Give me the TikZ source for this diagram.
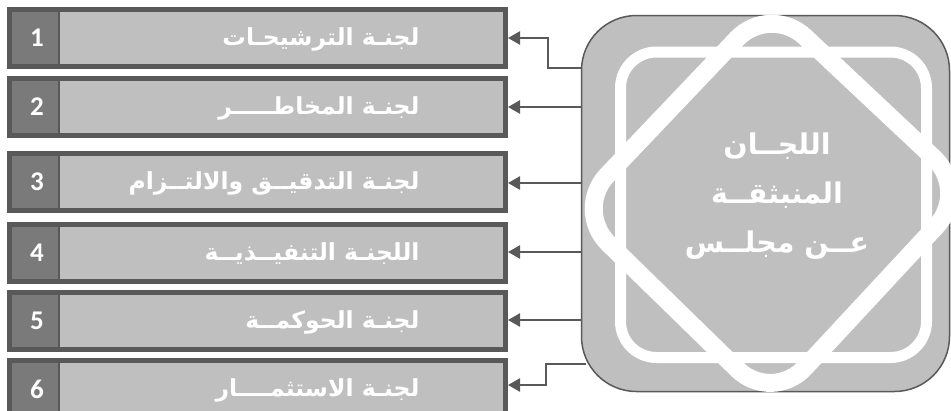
\documentclass[tikz,border=0pt]{standalone}
\usepackage{fontspec}
\setmainfont{Carlito}
\newfontfamily\arabicfont[Script=Arabic]{DejaVu Sans}
\TeXXeTstate=1
\usetikzlibrary{arrows.meta}
\definecolor{fillgray}{HTML}{BFBFBF}
\definecolor{edgegray}{HTML}{595959}
\definecolor{cellgray}{HTML}{7A7A7A}
\begin{document}
\begin{tikzpicture}[x=1pt,y=-1pt,
  boxnode/.style={draw=edgegray,line width=5pt,fill=fillgray,minimum width=496pt,minimum height=57pt,inner sep=0pt},
  cellnode/.style={fill=cellgray,minimum width=47pt,minimum height=52pt,inner sep=0pt},
  numtext/.style={text=white,font=\fontsize{27}{30}\selectfont\bfseries},
  artext/.style={text=white,anchor=east,font=\arabicfont\fontsize{23.5}{26}\selectfont\bfseries},
  arr/.style={draw=edgegray,line width=2.4pt,-{Triangle[length=12pt,width=13pt]}}
]
\useasboundingbox (0,0) rectangle (951,410);
\fill[white] (0,0) rectangle (951,410);

% board
\node[draw=edgegray,line width=1.5pt,fill=fillgray,rounded corners=55pt,minimum width=368pt,minimum height=376pt,inner sep=0pt] (board) at (765.5,203.5) {};
\draw[white,line width=11pt,rounded corners=36pt] (620.5,52) rectangle (926.5,357.5);
\begin{scope}
\clip (0,0) rectangle (951,410);
\draw[white,line width=18pt,rounded corners=48pt,line join=round] (770,4) -- (969,191) -- (772,403) -- (574,210) -- cycle;
\end{scope}
\node[text=white,align=center,font=\arabicfont\fontsize{28.5}{49}\selectfont\bfseries] (title) at (777,196)
  {\beginR اللجــان\endR\\ \beginR المنبثقــة\endR\\ \beginR عــن مجلــس\endR};

% committee boxes
\foreach \i/\t in {1/7,2/76,3/151,4/222,5/290,6/358}{
  \node[boxnode] (b\i) at (257.5,\t+31) {};
  \node[cellnode] (c\i) at (35.5,\t+31) {};
  \draw[edgegray,line width=2pt] (c\i.north east) -- (c\i.south east);
  \node[numtext] (n\i) at (37,\t+31) {\i};
}
\node[artext] (t1) at (423,39) {\beginR لجنـة الترشيحـات\endR};
\node[artext] (t2) at (423,108) {\beginR لجنـة المخاطـــــر\endR};
\node[artext] (t3) at (423,183) {\beginR لجنـة التدقيــق والالتــزام\endR};
\node[artext] (t4) at (423,254) {\beginR اللجنـة التنفيــذيــة\endR};
\node[artext] (t5) at (423,322) {\beginR لجنـة الحوكمــة\endR};
\node[artext] (t6) at (423,390) {\beginR لجنـة الاستثمــــار\endR};

% connectors
\coordinate (s1) at (582,68);
\coordinate (s6) at (586,364);
\draw[arr] (s1) -- (548,68) |- (b1.east |- 0,38);
\draw[arr] (board.west |- 0,107) -- (b2.east |- 0,107);
\draw[arr] (board.west |- 0,183) -- (b3.east |- 0,183);
\draw[arr] (board.west |- 0,252) -- (b4.east |- 0,252);
\draw[arr] (board.west |- 0,320) -- (b5.east |- 0,320);
\draw[arr] (s6) -- (546,364) |- (b6.east |- 0,385);
\end{tikzpicture}
\end{document}
